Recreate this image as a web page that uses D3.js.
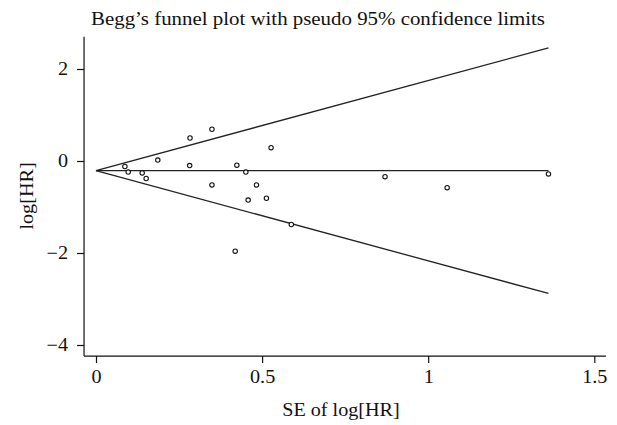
<!DOCTYPE html>
<html>
<head>
<meta charset="utf-8">
<script src="https://cdn.jsdelivr.net/npm/d3@7"></script>
<style>
  body { margin: 0; background: #fff; }
  svg { display: block; font-family: "Liberation Serif", "DejaVu Serif", serif; }
</style>
</head>
<body>
<svg id="chart" width="617" height="425"></svg>
<script>
// standard error of log[HR] for each study
const seVals = [0.087, 0.097, 0.139, 0.151, 0.186, 0.283, 0.282, 0.349, 0.349, 0.424,
                0.451, 0.458, 0.483, 0.513, 0.527, 0.588, 0.419, 1.362, 1.057, 0.870];
// log[HR] for each study
const logHr = [-0.12, -0.24, -0.26, -0.38, 0.02, 0.50, -0.10, 0.69, -0.52, -0.09,
               -0.24, -0.85, -0.52, -0.81, 0.29, -1.38, -1.96, -0.28, -0.58, -0.34];
const pooled = -0.21;
const xTicks = [0, 0.5, 1, 1.5];
const yTicks = [-4, -2, 0, 2];
const titleText = "Begg\u2019s funnel plot with pseudo 95% confidence limits";

const svg = d3.select("#chart");
const x = d3.scaleLinear().domain([0, 1.5]).range([96, 594.3]);
const y = d3.scaleLinear().domain([-4, 2]).range([345, 69]);

// widen the Times-like glyphs a bit, the original face is broader
const widen = (sel, k) => sel.each(function () {
  const w = this.getComputedTextLength();
  d3.select(this).attr("textLength", w * k).attr("lengthAdjust", "spacingAndGlyphs");
});

// axis frame lines
const axLeft = x(-0.036), axRight = x(1.535), axTop = y(2.7), axBottom = y(-4.24);
svg.append("line").attr("x1", axLeft).attr("x2", axLeft).attr("y1", axTop).attr("y2", axBottom)
  .attr("stroke", "#111").attr("stroke-width", 1.2);
svg.append("line").attr("x1", axLeft).attr("x2", axRight).attr("y1", axBottom).attr("y2", axBottom)
  .attr("stroke", "#111").attr("stroke-width", 1.2);

const fmt = d => (d < 0 ? "\u2212" + Math.abs(d) : String(d));

const yAxis = svg.append("g").attr("transform", `translate(${axLeft},0)`)
  .call(d3.axisLeft(y).tickValues(yTicks).tickSize(7).tickPadding(9).tickFormat(fmt));
const xAxis = svg.append("g").attr("transform", `translate(0,${axBottom})`)
  .call(d3.axisBottom(x).tickValues(xTicks).tickSize(7).tickPadding(7).tickFormat(d => String(d)));
[yAxis, xAxis].forEach(g => {
  g.select(".domain").remove();
  g.selectAll("line").attr("stroke", "#111").attr("stroke-width", 1.2);
  g.selectAll("text").attr("font-size", 18).attr("fill", "#111")
    .attr("font-family", "Liberation Serif, serif")
    .call(widen, 1.12);
});

// funnel
const maxSe = d3.max(seVals);
const lineStyle = sel => sel.attr("stroke", "#222").attr("stroke-width", 1.3).attr("fill", "none");
[pooled + 1.96 * maxSe, pooled, pooled - 1.96 * maxSe].forEach(end => {
  svg.append("line").call(lineStyle)
    .attr("x1", x(0)).attr("y1", y(pooled))
    .attr("x2", x(maxSe)).attr("y2", y(end));
});

// studies
svg.append("g").selectAll("circle").data(seVals).join("circle")
  .attr("cx", d => x(d))
  .attr("cy", (d, i) => y(logHr[i]))
  .attr("r", 2.2)
  .attr("fill", "#fff")
  .attr("stroke", "#111")
  .attr("stroke-width", 1.1);

// titles
const title = svg.append("text").attr("x", 318).attr("y", 25).attr("text-anchor", "middle")
  .attr("font-size", 18.5).attr("fill", "#111").text(titleText);
title.attr("textLength", 454).attr("lengthAdjust", "spacingAndGlyphs");
svg.append("text").attr("x", 341).attr("y", 416).attr("text-anchor", "middle")
  .attr("font-size", 18).attr("fill", "#111").text("SE of log[HR]")
  .call(widen, 1.12);
svg.append("text").attr("transform", "translate(33,196) rotate(-90)").attr("text-anchor", "middle")
  .attr("font-size", 18).attr("fill", "#111").text("log[HR]")
  .call(widen, 1.12);
</script>
</body>
</html>
